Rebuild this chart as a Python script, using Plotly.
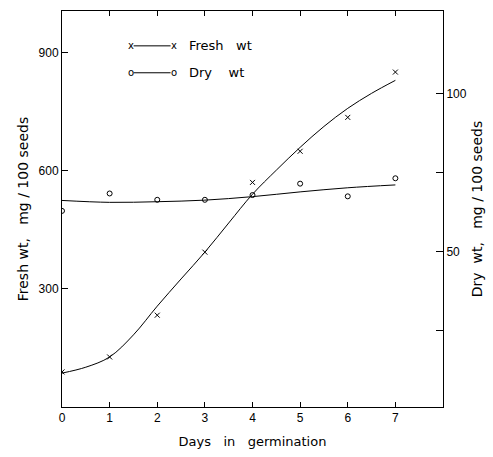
import plotly.graph_objects as go

# Observations: days of germination
days = [0, 1, 2, 3, 4, 5, 6, 7]
fresh_wt = [89, 127, 233, 393, 570, 649, 735, 850]      # mg / 100 seeds (left axis)
dry_wt = [62.9, 68.4, 66.4, 66.4, 67.9, 71.5, 67.5, 73.2]  # mg / 100 seeds (right axis)

# Hand-fitted smooth curves through the observations
curve_days = [0, 0.5, 1, 1.5, 2, 2.5, 3, 3.5, 4, 4.5, 5, 5.5, 6, 6.5, 7]
fresh_curve = [86, 101, 127, 183, 256, 325, 393, 467, 540, 601, 659, 712, 758, 796, 829]
dry_curve_days = [0, 1, 2, 3, 4, 5, 6, 7]
dry_curve = [66.2, 65.6, 65.8, 66.3, 67.4, 68.9, 70.2, 71.1]

x_ticks = [0, 1, 2, 3, 4, 5, 6, 7]
left_ticks = [300, 600, 900]
right_ticks = [25, 50, 75, 100]
right_ticktext = ["", "50", "", "100"]

TICK_FONT = "Liberation Sans"
TEXT_FONT = "DejaVu Sans"
NB = "\u00a0"

fig = go.Figure()

fig.add_trace(go.Scatter(x=curve_days, y=fresh_curve, mode="lines", line_shape="spline",
                         line=dict(color="black", width=1), showlegend=False, yaxis="y"))
fig.add_trace(go.Scatter(x=days, y=fresh_wt, mode="markers",
                         marker=dict(symbol="x-thin-open", size=5, color="black",
                                     line=dict(color="black", width=1)),
                         showlegend=False, yaxis="y"))
fig.add_trace(go.Scatter(x=dry_curve_days, y=dry_curve, mode="lines", line_shape="spline",
                         line=dict(color="black", width=1), showlegend=False, yaxis="y2"))
fig.add_trace(go.Scatter(x=days, y=dry_wt, mode="markers",
                         marker=dict(symbol="circle-open", size=5, color="black",
                                     line=dict(color="black", width=1)),
                         showlegend=False, yaxis="y2"))

# Key drawn inside the plot area
def key_row(y, mark, label):
    fig.add_shape(type="line", xref="paper", yref="paper", x0=0.188, x1=0.285, y0=y, y1=y,
                  line=dict(color="black", width=1))
    for xp in (0.180, 0.295):
        fig.add_annotation(x=xp, y=y, xref="paper", yref="paper", text=mark, showarrow=False,
                           font=dict(family=TEXT_FONT, size=10, color="black"),
                           xanchor="center", yanchor="middle")
    fig.add_annotation(x=0.328, y=y, xref="paper", yref="paper", text=label, showarrow=False,
                       font=dict(family=TEXT_FONT, size=13, color="black"),
                       xanchor="left", yanchor="middle")

key_row(0.912, "x", "Fresh" + NB * 3 + "wt")
key_row(0.844, "o", "Dry" + NB * 4 + "wt")

axis_font = dict(family=TICK_FONT, size=12, color="black")
title_font = dict(family=TEXT_FONT, size=14, color="black")

fig.update_layout(
    width=493, height=457,
    margin=dict(l=62, r=48, t=10, b=50),
    paper_bgcolor="white", plot_bgcolor="white",
    font=dict(family=TEXT_FONT, color="black"),
    xaxis=dict(range=[0, 8], tickvals=x_ticks, ticks="inside", ticklen=5, tickcolor="black",
               showline=True, linecolor="black", linewidth=1, mirror="ticks",
               showgrid=False, zeroline=False, tickfont=axis_font,
               title=dict(text="Days" + NB * 3 + "in" + NB * 3 + "germination",
                          font=dict(family=TEXT_FONT, size=13), standoff=12)),
    yaxis=dict(range=[0, 1005], tickvals=left_ticks, ticks="inside", ticklen=6, tickcolor="black",
               showline=True, linecolor="black", linewidth=1,
               showgrid=False, zeroline=False, tickfont=axis_font,
               title=dict(text="Fresh" + NB + "wt," + NB * 3 + "mg" + NB + "/" + NB + "100" + NB + "seeds",
                          font=title_font, standoff=6)),
    yaxis2=dict(range=[1, 126], overlaying="y", side="right", tickvals=right_ticks,
                ticktext=right_ticktext, ticks="inside", ticklen=7, tickcolor="black",
                showline=True, linecolor="black", linewidth=1,
                showgrid=False, zeroline=False, tickfont=axis_font,
                title=dict(text="Dry" + NB * 2 + "wt," + NB * 3 + "mg" + NB + "/" + NB + "100" + NB + "seeds",
                           font=title_font, standoff=6)),
)

fig.write_html("out.html")
